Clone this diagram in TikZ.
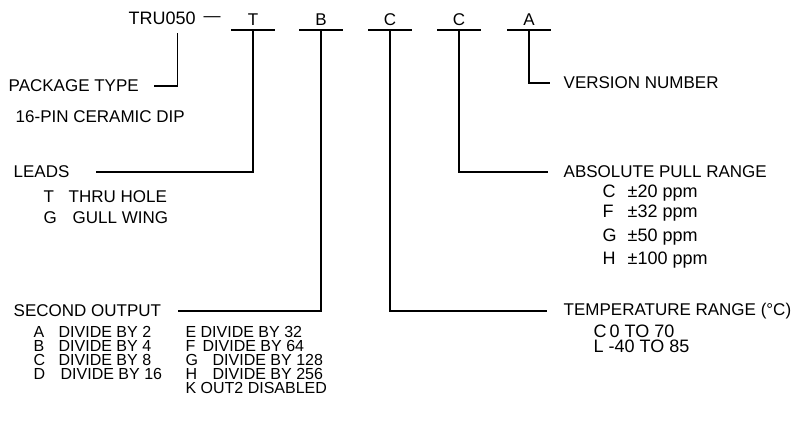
\documentclass[tikz,border=0pt]{standalone}
\usepackage{fontspec}
\setmainfont{Liberation Sans}
\tikzstyle{every node}+=[inner sep=0pt,font=\fontsize{17}{20}\selectfont]
\tikzstyle{every path}+=[line width=1.4pt]
\tikzstyle{code}=[minimum width=42pt,text height=12pt,text depth=4pt,anchor=south]
\tikzstyle{lbl}=[anchor=west]
\tikzstyle{wide}=[anchor=west,font=\fontsize{18}{20}\selectfont]
\tikzstyle{item}=[anchor=west,text height=12pt,text depth=0pt,font=\fontsize{16}{18}\selectfont]
\newcommand{\opt}[3][25pt]{\makebox[#1][l]{#2}#3}

\begin{document}
\begin{tikzpicture}[x=1pt,y=-1pt]
\useasboundingbox (0,0) rectangle (796,435);

% part number
\node[wide] (tru) at (128,18) {TRU050};
\node[lbl] (dash) at (203,19) {—};
\node[code] (cT) at (253,30) {T};
\node[code] (cB) at (321,30) {B};
\node[code] (cC) at (390,30) {C};
\node[code] (cCb) at (459,30) {C};
\node[code] (cA) at (529,30) {A};
\foreach \n in {cT,cB,cC,cCb,cA}
  \draw (\n.south west) -- (\n.south east);

% left side
\node[lbl] (pkg) at (8,86) {PACKAGE TYPE};
\node[lbl] (dip) at (15,117) {16-PIN CERAMIC DIP};

\node[lbl] (leads) at (13,172) {LEADS};
\node[lbl] (leadsT) at (43,197) {\opt{T}{THRU HOLE}};
\node[lbl] (leadsG) at (43,218) {\opt[29pt]{G}{GULL WING}};

\node[lbl] (second) at (13,311) {SECOND OUTPUT};
\node[item] (divA) at (33,332) {\opt{A}{DIVIDE BY 2}};
\node[item] (divB) at (33,346) {\opt{B}{DIVIDE BY 4}};
\node[item] (divC) at (33,360) {\opt{C}{DIVIDE BY 8}};
\node[item] (divD) at (33,374) {\opt[27pt]{D}{DIVIDE BY 16}};
\node[item] (divE) at (185,332) {\opt[15pt]{E}{DIVIDE BY 32}};
\node[item] (divF) at (185,346) {\opt[17pt]{F}{DIVIDE BY 64}};
\node[item] (divG) at (185,360) {\opt[27pt]{G}{DIVIDE BY 128}};
\node[item] (divH) at (185,374) {\opt[27pt]{H}{DIVIDE BY 256}};
\node[item] (divK) at (185,388) {\opt[15pt]{K}{OUT2 DISABLED}};

% right side
\node[lbl] (ver) at (563,83) {VERSION NUMBER};

\node[lbl] (pull) at (563,172) {ABSOLUTE PULL RANGE};
\node[wide] (pullC) at (602,193) {\opt{C}{±20 ppm}};
\node[wide] (pullF) at (602,213) {\opt{F}{±32 ppm}};
\node[wide] (pullG) at (602,237) {\opt{G}{±50 ppm}};
\node[wide] (pullH) at (602,260) {\opt{H}{±100 ppm}};

\node[lbl] (temp) at (563,311) {TEMPERATURE RANGE (°C)};
\node[wide,text height=12pt,text depth=0pt] (tempC) at (593,332) {\opt[16pt]{C}{0 TO 70}};
\node[wide,text height=12pt,text depth=0pt] (tempL) at (593,347) {\opt[15pt]{L}{-40 TO 85}};

% connectors
\draw[shorten <=15pt] (pkg.east) -| ([xshift=15pt,yshift=-7.5pt]tru.south);
\draw[shorten >=26pt] (cT.south) |- (leads.east);
\draw[shorten >=16pt] (cB.south) |- (second.east);
\draw[shorten >=16pt] (cC.south) |- (temp.west);
\draw[shorten >=15pt] (cCb.south) |- (pull.west);
\draw[shorten >=13pt] (cA.south) |- (ver.west);
\end{tikzpicture}
\end{document}
